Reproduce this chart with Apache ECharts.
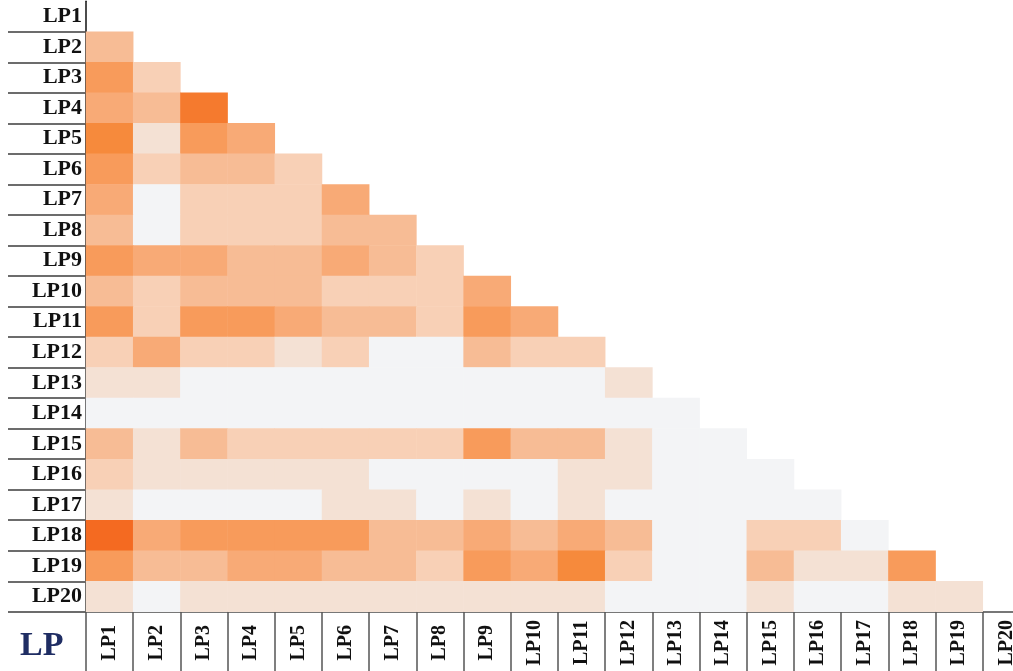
<!DOCTYPE html>
<html>
<head>
<meta charset="utf-8">
<script src="https://cdn.jsdelivr.net/npm/echarts@6/dist/echarts.min.js"></script>
<style>
html,body{margin:0;padding:0;background:#fff;}
#chart{width:1013px;height:671px;}
</style>
</head>
<body>
<div id="chart"></div>
<script>
// Category labels
var labels = ['LP1','LP2','LP3','LP4','LP5','LP6','LP7','LP8','LP9','LP10',
              'LP11','LP12','LP13','LP14','LP15','LP16','LP17','LP18','LP19','LP20'];

// Lower-triangle values (row LPi holds columns LP1..LP(i-1)), estimated from colour intensity
var lowerTriangle = [
  [],
  [0.30],
  [0.50, 0.20],
  [0.40, 0.30, 0.65],
  [0.60, 0.10, 0.50, 0.40],
  [0.50, 0.20, 0.30, 0.30, 0.20],
  [0.40, 0.00, 0.20, 0.20, 0.20, 0.40],
  [0.30, 0.00, 0.20, 0.20, 0.20, 0.30, 0.30],
  [0.50, 0.40, 0.40, 0.30, 0.30, 0.40, 0.30, 0.20],
  [0.30, 0.20, 0.30, 0.30, 0.30, 0.20, 0.20, 0.20, 0.40],
  [0.50, 0.20, 0.50, 0.50, 0.40, 0.30, 0.30, 0.20, 0.50, 0.40],
  [0.20, 0.40, 0.20, 0.20, 0.10, 0.20, 0.00, 0.00, 0.30, 0.20, 0.20],
  [0.10, 0.10, 0.00, 0.00, 0.00, 0.00, 0.00, 0.00, 0.00, 0.00, 0.00, 0.10],
  [0.00, 0.00, 0.00, 0.00, 0.00, 0.00, 0.00, 0.00, 0.00, 0.00, 0.00, 0.00, 0.00],
  [0.30, 0.10, 0.30, 0.20, 0.20, 0.20, 0.20, 0.20, 0.50, 0.30, 0.30, 0.10, 0.00, 0.00],
  [0.20, 0.10, 0.10, 0.10, 0.10, 0.10, 0.00, 0.00, 0.00, 0.00, 0.10, 0.10, 0.00, 0.00, 0.00],
  [0.10, 0.00, 0.00, 0.00, 0.00, 0.10, 0.10, 0.00, 0.10, 0.00, 0.10, 0.00, 0.00, 0.00, 0.00, 0.00],
  [0.70, 0.40, 0.50, 0.50, 0.50, 0.50, 0.30, 0.30, 0.40, 0.30, 0.40, 0.30, 0.00, 0.00, 0.20, 0.20, 0.00],
  [0.50, 0.30, 0.30, 0.40, 0.40, 0.30, 0.30, 0.20, 0.50, 0.40, 0.60, 0.20, 0.00, 0.00, 0.30, 0.10, 0.10, 0.50],
  [0.10, 0.00, 0.10, 0.10, 0.10, 0.10, 0.10, 0.10, 0.10, 0.10, 0.10, 0.00, 0.00, 0.00, 0.10, 0.00, 0.00, 0.10, 0.10]
];

var colorScale = ['#f3f4f6','#f4e1d4','#f8d0b6','#f7bc95','#f8aa76','#f89b5b','#f68a3c','#f46a21'];
var scaleMin = 0, scaleMax = 0.7;

var heatData = [];
lowerTriangle.forEach(function (row, r) {
  row.forEach(function (v, c) { heatData.push([c, r, v]); });
});

var serif = '"Liberation Serif", "DejaVu Serif", serif';
var chart = echarts.init(document.getElementById('chart'));
chart.setOption({
  animation: false,
  backgroundColor: '#fff',
  grid: { left: 86, top: 1.2, width: 944, height: 610.6, containLabel: false, outerBoundsMode: 'none' },
  xAxis: {
    type: 'category',
    data: labels,
    position: 'bottom',
    boundaryGap: true,
    axisLine: { show: true, lineStyle: { color: '#777', width: 2 } },
    axisTick: { show: true, length: 62, lineStyle: { color: '#555', width: 1.5 } },
    axisLabel: {
      rotate: 90, interval: 0, margin: 31, align: 'center', verticalAlign: 'middle',
      fontFamily: serif, fontWeight: 'bold', fontSize: 20, color: '#111'
    },
    splitLine: { show: false }
  },
  yAxis: {
    type: 'category',
    data: labels,
    inverse: true,
    boundaryGap: true,
    axisLine: { show: true, lineStyle: { color: '#111', width: 1.5 } },
    axisTick: {
      show: true, length: 78, lineStyle: { color: '#3c3c3c', width: 1.5 },
      interval: function (index) { return index !== 0; }
    },
    axisLabel: {
      interval: 0, margin: 4,
      fontFamily: serif, fontWeight: 'bold', fontSize: 22, color: '#111'
    },
    splitLine: { show: false }
  },
  visualMap: {
    type: 'continuous', show: false, min: scaleMin, max: scaleMax,
    inRange: { color: colorScale }
  },
  graphic: [{
    type: 'text', left: 20, top: 629,
    style: { text: 'LP', fontFamily: serif, fontWeight: 'bold', fontSize: 34, fill: '#1f2d63' }
  }],
  series: [{
    type: 'heatmap',
    data: heatData,
    itemStyle: { borderWidth: 0 },
    emphasis: { disabled: true },
    label: { show: false }
  }]
});
</script>
</body>
</html>
